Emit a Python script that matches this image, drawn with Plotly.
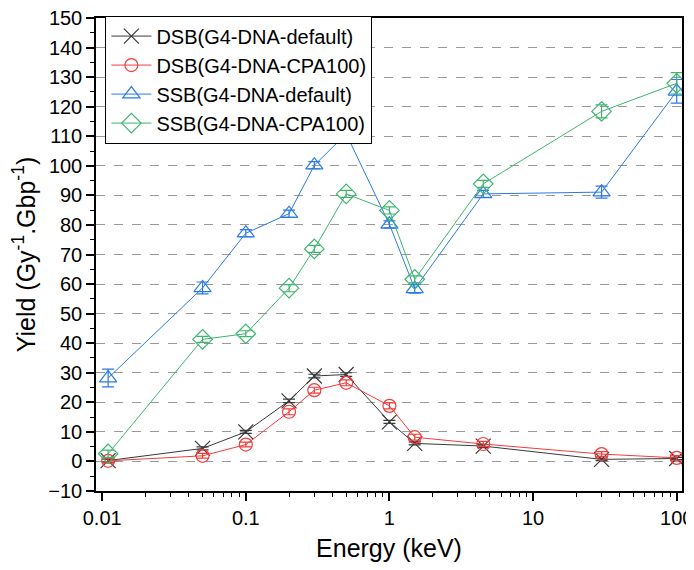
import plotly.graph_objects as go

energy = [0.011, 0.05, 0.1, 0.2, 0.3, 0.5, 1, 1.5, 4.5, 30, 100]

dsb_default = [0.3, 4.4, 10.0, 20.5, 28.9, 29.4, 13.4, 6.1, 5.2, 0.7, 1.0]
dsb_default_err = [0.5, 0.5, 0.5, 0.6, 0.6, 0.6, 0.5, 0.5, 0.5, 0.4, 0.4]
dsb_cpa = [0.2, 1.9, 5.7, 16.8, 24.1, 26.6, 18.8, 8.2, 5.9, 2.5, 1.2]
dsb_cpa_err = [0.8, 0.8, 0.8, 1.0, 1.0, 1.0, 1.0, 1.0, 0.9, 0.8, 0.8]
ssb_default = [28.2, 58.7, 77.2, 83.8, 100.2, 110.8, 80.2, 58.4, 90.5, 91.1, 125.2]
ssb_default_err = [3.0, 2.0, 1.2, 1.2, 1.2, 1.5, 1.2, 1.5, 1.2, 2.0, 4.0]
ssb_cpa = [2.6, 41.3, 43.2, 58.6, 71.9, 90.5, 84.9, 61.6, 93.9, 118.4, 127.9]
ssb_cpa_err = [1.2, 1.0, 1.0, 1.2, 1.2, 1.2, 1.2, 1.2, 1.2, 2.2, 3.6]

names = ["DSB(G4-DNA-default)", "DSB(G4-DNA-CPA100)", "SSB(G4-DNA-default)", "SSB(G4-DNA-CPA100)"]
series = [dsb_default, dsb_cpa, ssb_default, ssb_cpa]
errors = [dsb_default_err, dsb_cpa_err, ssb_default_err, ssb_cpa_err]
colors = ["#3a3a3a", "#f23c3c", "#2b7be4", "#3fb56f"]
symbols = ["x-thin-open", "circle-open", "triangle-up-open", "diamond-open"]
sizes = [15, 13, 15, 15]

x_tick_vals = [0.01, 0.1, 1, 10, 100]
x_tick_text = ["0.01", "0.1", "1", "10", "100"]
x_minor_vals = [m * d for d in [0.01, 0.1, 1, 10] for m in range(2, 10)]

FONT = "Liberation Sans"

fig = go.Figure()
for name, ys, err, c, s, sz in zip(names, series, errors, colors, symbols, sizes):
    fig.add_trace(go.Scatter(
        x=energy, y=ys, name=name, mode="lines+markers",
        line=dict(color=c, width=1),
        marker=dict(symbol=s, size=sz, color=c, line=dict(color=c, width=1.2)),
        error_y=dict(type="data", array=err, visible=True, color=c, thickness=1.2, width=6),
    ))

fig.update_layout(
    width=686, height=562,
    margin=dict(l=87.5, r=12, t=8.7, b=79),
    plot_bgcolor="white", paper_bgcolor="white",
    font=dict(family=FONT, size=19, color="black"),
    showlegend=True,
    legend=dict(x=0.016, y=1.003, xanchor="left", yanchor="top",
                bordercolor="black", borderwidth=1, bgcolor="white",
                font=dict(family=FONT, size=20), tracegroupgap=0, itemwidth=40),
)

fig.update_xaxes(
    type="log", range=[-2.043, 2.037], automargin=False, ticklabeloverflow="allow",
    tickvals=x_tick_vals, ticktext=x_tick_text,
    ticks="outside", ticklen=8, tickwidth=1.5, tickcolor="black",
    showline=True, linecolor="black", linewidth=1.5, mirror=True,
    showgrid=False, zeroline=False,
    minor=dict(tickvals=x_minor_vals, ticks="outside", ticklen=4, tickwidth=1.2,
               tickcolor="black", showgrid=False),
    title=dict(text="Energy (keV)", font=dict(family=FONT, size=25), standoff=12),
    tickfont=dict(family=FONT, size=20),
)
fig.update_yaxes(
    range=[-10, 150], tickvals=list(range(-10, 151, 10)), automargin=False,
    ticklabeloverflow="allow",
    ticks="outside", ticklen=8, tickwidth=1.5, tickcolor="black",
    showline=True, linecolor="black", linewidth=1.5, mirror=True,
    showgrid=True, gridcolor="#9a9a9a", griddash="dash", gridwidth=1,
    zeroline=False,
    minor=dict(ticks="outside", ticklen=4, tickwidth=1.2, tickcolor="black", dtick=5, showgrid=False),
    title=dict(text="Yield (Gy<sup>-1</sup>.Gbp<sup>-1</sup>)", font=dict(family=FONT, size=25), standoff=8),
    tickfont=dict(family=FONT, size=20),
)

fig.write_html("out.html")
